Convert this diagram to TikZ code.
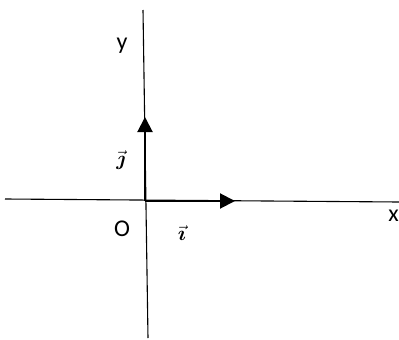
\documentclass[tikz,border=0pt]{standalone}
\usepackage{amsmath}
\usepackage{fontspec}
\setmainfont{Carlito}
\usetikzlibrary{arrows.meta}
\begin{document}
\begin{tikzpicture}[x=1pt,y=-1pt,
  axis/.style={line width=1.1pt},
  vecarrow/.style={line width=2pt,-{Triangle[length=15pt,width=15pt]}},
  lbl/.style={font=\fontsize{24}{28}\selectfont,inner sep=0pt},
  vlbl/.style={font=\fontsize{22}{26}\selectfont,inner sep=0pt}]
\useasboundingbox (0,0) rectangle (399,340);
\coordinate (xl) at (5,199);
\coordinate (xr) at (399,202);
\coordinate (yt) at (143,10);
\coordinate (yb) at (148,338);
\coordinate (o) at (145,201);
\coordinate (jt) at (145,117);
\coordinate (it) at (235,201);
\draw[axis] (xl) -- (xr);
\draw[axis] (yt) -- (yb);
\draw[vecarrow] (o) -- (jt);
\draw[vecarrow] (o) -- (it);
\node[lbl] (ylab) at (122,46) {y};
\node[lbl] (olab) at (122,229) {O};
\node[lbl,anchor=east] (xlab) at (399,216) {x};
\node[vlbl] (jlab) at (121,160) {$\vec{\boldsymbol{\jmath}}$};
\node[vlbl] (ilab) at (182,233) {$\vec{\boldsymbol{\imath}}$};
\end{tikzpicture}
\end{document}
